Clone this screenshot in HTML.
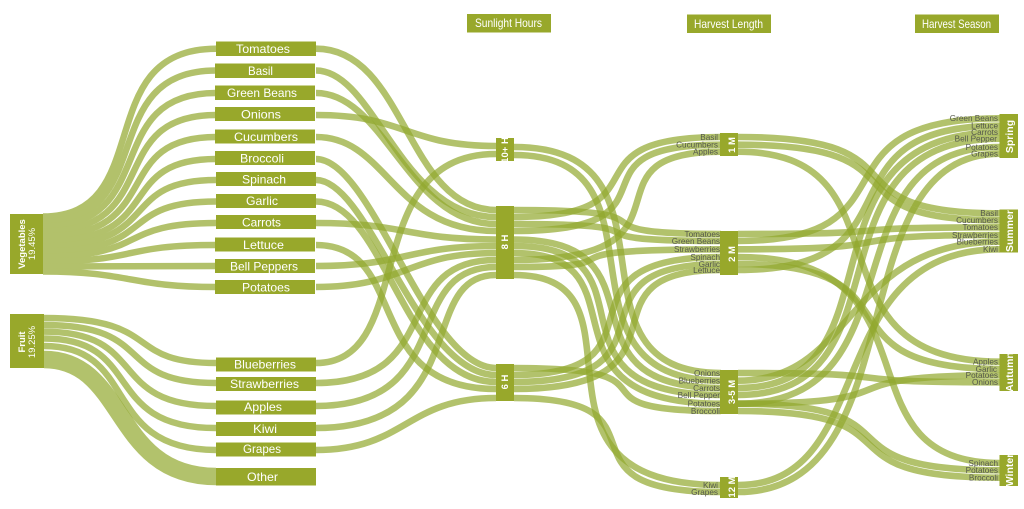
<!DOCTYPE html>
<html>
<head>
<meta charset="utf-8">
<style>
html,body{margin:0;padding:0;background:#fff;width:1024px;height:509px;overflow:hidden}
svg{display:block}
text{font-family:"Liberation Sans",sans-serif}
.r path{fill:none;stroke:#92a82d;stroke-width:6.6;stroke-opacity:.7}
.f path{stroke-width:6.4}
.g{opacity:.7}
.g path{fill:none;stroke:#92a82d;stroke-width:6.5}
rect{fill:#98a82b}
.w text{fill:#fff;font-size:12px}
.v text{fill:#fff;font-size:9.5px;font-weight:bold;text-anchor:middle}
.d text{fill:#55584c;font-size:8.2px;text-anchor:end}
</style>
</head>
<body>
<svg width="1024" height="509" viewBox="0 0 1024 509" xmlns="http://www.w3.org/2000/svg">
<!-- source to item -->
<g class="g">
<path d="M43 216.5C158 216.5 89 48.7 216 48.7"/>
<path d="M43 221.5C160 221.5 94 70.5 216 70.5"/>
<path d="M43 226.5C162 226.5 99 93 216 93"/>
<path d="M43 231.5C165 231.5 103 115 216 115"/>
<path d="M43 236.5C167 236.5 108 137 216 137"/>
<path d="M43 241.5C168 241.5 112 159 216 159"/>
<path d="M43 246.5C165 246.5 115 180 216 180"/>
<path d="M43 251.5C160 251.5 115 201.5 216 201.5"/>
<path d="M43 256.5C150 256.5 115 223 216 223"/>
<path d="M43 261.5C140 261.5 120 245 216 245"/>
<path d="M43 266.5C130 266.5 130 266 216 266"/>
<path d="M43 271.5C130 271.5 130 287 216 287"/>
</g>
<g class="r f">
<path d="M44 318C165 318 122 363 216 363"/>
<path d="M44 325C158 325 112 383 216 383"/>
<path d="M44 331.7C150 331.7 105 406 216 406"/>
<path d="M44 338.5C145 338.5 100 428 216 428"/>
<path d="M44 346C140 346 100 450 216 450"/>
<path d="M44 359.5C127 359.5 112 476.5 216 476.5" style="stroke-width:17.5"/>
</g>
<g class="r">
<!-- item to sunlight -->
<path d="M316 48.7C406 48.7 406 210 496 210"/>
<path d="M316 70.5C375 70.5 400 217 496 217"/>
<path d="M316 93C385 93 408 224 496 224"/>
<path d="M316 115C406 115 406 146 496 146"/>
<path d="M316 137C388 137 392 231 496 231"/>
<path d="M316 159C373 159 426 368 496 368"/>
<path d="M316 180C370 180 418 375 496 375"/>
<path d="M316 201.5C386 201.5 402 382 496 382"/>
<path d="M316 223C406 223 406 239.5 496 239.5"/>
<path d="M316 245C411 245 360 389 496 389"/>
<path d="M316 266C406 266 406 246 496 246"/>
<path d="M316 287C406 287 406 253 496 253"/>
<path d="M316 363C419 363 356 154 496 154"/>
<path d="M316 383C448 383 388 260 496 260"/>
<path d="M316 406C459 406 399 267 496 267"/>
<path d="M316 428C475 428 415 275 496 275"/>
<path d="M316 450C406 450 406 398 496 398"/>
<!-- sunlight to harvest -->
<path d="M514 147C695 147 552 373 721 373"/>
<path d="M514 155C680 155 540 380.7 721 380.7"/>
<path d="M514 210C695 210 555 234 721 234"/>
<path d="M514 217C674 217 557 137 721 137"/>
<path d="M514 224C687 224 547 241 721 241"/>
<path d="M514 231C695 231 555 144.7 721 144.7"/>
<path d="M514 239.5C675 239.5 548 388 721 388"/>
<path d="M514 246C667 246 529 395 721 395"/>
<path d="M514 253C653 253 525 403.7 721 403.7"/>
<path d="M514 260C712 260 572 151.7 721 151.7"/>
<path d="M514 267C655 267 515 249.3 721 249.3"/>
<path d="M514 275C661 275 501 485 721 485"/>
<path d="M514 368C695 368 555 411 721 411"/>
<path d="M514 375C679 375 539 257 721 257"/>
<path d="M514 382C693 382 553 264 721 264"/>
<path d="M514 389C707 389 567 270 721 270"/>
<path d="M514 398C682 398 542 492 721 492"/>
<!-- harvest to season -->
<path d="M738 137C936 137 816 213.3 1000 213.3"/>
<path d="M738 144.7C936 144.7 816 220.3 1000 220.3"/>
<path d="M738 151.7C917 151.7 797 361.7 1000 361.7"/>
<path d="M738 234C929 234 809 227.3 1000 227.3"/>
<path d="M738 241C924 241 804 118.3 1000 118.3"/>
<path d="M738 249.3C929 249.3 809 235 1000 235"/>
<path d="M738 257C950 257 830 463 1000 463"/>
<path d="M738 264C929 264 809 369 1000 369"/>
<path d="M738 270C930 270 810 125.7 1000 125.7"/>
<path d="M738 373C929 373 809 382.3 1000 382.3"/>
<path d="M738 380.7C857 380.7 843 241.7 1000 241.7"/>
<path d="M738 388C910 388 786 132.3 1000 132.3"/>
<path d="M738 395C917 395 797 138.7 1000 138.7"/>
<path d="M738 403.7C925 403.7 821 147 1000 147"/>
<path d="M738 403.7C929 403.7 809 375.3 1000 375.3"/>
<path d="M738 403.7C929 403.7 809 470.3 1000 470.3"/>
<path d="M738 411C929 411 809 477.7 1000 477.7"/>
<path d="M738 485C881 485 819 249.3 1000 249.3"/>
<path d="M738 492C919 492 835 153.7 1000 153.7"/>
</g>
<!-- nodes -->
<rect x="10" y="214" width="33" height="60"/>
<rect x="10" y="314" width="34" height="54"/>
<rect x="216" y="41.5" width="100" height="14.5"/>
<rect x="215" y="63.5" width="100" height="14.5"/>
<rect x="215" y="85.5" width="100" height="14.5"/>
<rect x="215" y="107" width="100" height="14"/>
<rect x="215" y="129.5" width="100" height="14"/>
<rect x="215" y="151" width="100" height="14"/>
<rect x="216" y="172" width="100" height="14"/>
<rect x="216" y="194" width="100" height="14"/>
<rect x="216" y="215" width="100" height="14"/>
<rect x="215" y="237.5" width="100" height="14"/>
<rect x="215" y="259" width="100" height="14"/>
<rect x="215" y="280" width="100" height="14"/>
<rect x="216" y="357.5" width="100" height="14"/>
<rect x="216" y="377" width="100" height="14"/>
<rect x="216" y="400.5" width="100" height="14"/>
<rect x="216" y="422" width="100" height="14"/>
<rect x="216" y="442.5" width="100" height="14"/>
<rect x="216" y="468" width="100" height="17.5"/>
<rect x="496" y="138" width="18" height="23"/>
<rect x="496" y="206" width="18" height="73"/>
<rect x="496" y="364" width="18" height="37"/>
<rect x="720" y="133" width="18" height="23"/>
<rect x="720" y="231" width="18" height="44"/>
<rect x="720" y="370" width="18" height="44"/>
<rect x="720" y="477" width="18" height="21"/>
<rect x="999.500" y="114" width="18.500" height="44"/>
<rect x="999.500" y="209.500" width="18.500" height="43"/>
<rect x="999.500" y="354" width="18.500" height="37"/>
<rect x="999.500" y="455" width="18.500" height="31"/>
<rect x="467" y="14" width="84" height="18.500"/>
<rect x="687" y="14.500" width="84" height="18.500"/>
<rect x="915" y="14.500" width="84" height="18.500"/>
<!-- item labels -->
<g class="w">
<text x="236" y="53" textLength="54" lengthAdjust="spacingAndGlyphs">Tomatoes</text>
<text x="248" y="75" textLength="25" lengthAdjust="spacingAndGlyphs">Basil</text>
<text x="227" y="97" textLength="70" lengthAdjust="spacingAndGlyphs">Green Beans</text>
<text x="241" y="118.500" textLength="40" lengthAdjust="spacingAndGlyphs">Onions</text>
<text x="234" y="141" textLength="64" lengthAdjust="spacingAndGlyphs">Cucumbers</text>
<text x="240" y="162.500" textLength="44" lengthAdjust="spacingAndGlyphs">Broccoli</text>
<text x="242" y="183.500" textLength="44" lengthAdjust="spacingAndGlyphs">Spinach</text>
<text x="246" y="205" textLength="32" lengthAdjust="spacingAndGlyphs">Garlic</text>
<text x="242" y="226.500" textLength="39" lengthAdjust="spacingAndGlyphs">Carrots</text>
<text x="243" y="249" textLength="41" lengthAdjust="spacingAndGlyphs">Lettuce</text>
<text x="230" y="270.500" textLength="68" lengthAdjust="spacingAndGlyphs">Bell Peppers</text>
<text x="242" y="291.500" textLength="48" lengthAdjust="spacingAndGlyphs">Potatoes</text>
<text x="234" y="368.500" textLength="62" lengthAdjust="spacingAndGlyphs">Blueberries</text>
<text x="230" y="388" textLength="69" lengthAdjust="spacingAndGlyphs">Strawberries</text>
<text x="244" y="411" textLength="38" lengthAdjust="spacingAndGlyphs">Apples</text>
<text x="253" y="433" textLength="24" lengthAdjust="spacingAndGlyphs">Kiwi</text>
<text x="243" y="453" textLength="38" lengthAdjust="spacingAndGlyphs">Grapes</text>
<text x="247" y="481" textLength="31" lengthAdjust="spacingAndGlyphs">Other</text>
<text x="475" y="27" textLength="67" lengthAdjust="spacingAndGlyphs">Sunlight Hours</text>
<text x="694" y="28" textLength="69" lengthAdjust="spacingAndGlyphs">Harvest Length</text>
<text x="922" y="28" textLength="69" lengthAdjust="spacingAndGlyphs">Harvest Season</text>
</g>
<!-- vertical labels -->
<g class="v">
<text transform="translate(25 244) rotate(-90)">Vegetables</text>
<text transform="translate(35 244) rotate(-90)" style="font-weight:normal">19.45%</text>
<text transform="translate(25 342) rotate(-90)">Fruit</text>
<text transform="translate(35 342) rotate(-90)" style="font-weight:normal">19.25%</text>
<text transform="translate(508 150) rotate(-90)">10+ H</text>
<text transform="translate(508 242) rotate(-90)">8 H</text>
<text transform="translate(508 382) rotate(-90)">6 H</text>
<text transform="translate(735 145) rotate(-90)">1 M</text>
<text transform="translate(735 254) rotate(-90)">2 M</text>
<text transform="translate(735 392) rotate(-90)">3-5 M</text>
<text transform="translate(735 487) rotate(-90)">12 M</text>
<text transform="translate(1013 136.500) rotate(-90)" style="font-size:10.500px">Spring</text>
<text transform="translate(1013 231) rotate(-90)" style="font-size:10.500px">Summer</text>
<text transform="translate(1013 372) rotate(-90)" style="font-size:10.500px">Autumn</text>
<text transform="translate(1013 470) rotate(-90)" style="font-size:10.500px">Winter</text>
</g>
<!-- harvest labels -->
<g class="d">
<text x="718" y="140">Basil</text>
<text x="718" y="147.500">Cucumbers</text>
<text x="718" y="154.500">Apples</text>
<text x="720" y="237">Tomatoes</text>
<text x="720" y="244">Green Beans</text>
<text x="720" y="252">Strawberries</text>
<text x="720" y="260">Spinach</text>
<text x="720" y="267">Garlic</text>
<text x="720" y="273">Lettuce</text>
<text x="720" y="376">Onions</text>
<text x="720" y="383.500">Blueberries</text>
<text x="720" y="391">Carrots</text>
<text x="720" y="398">Bell Pepper</text>
<text x="720" y="406.500">Potatoes</text>
<text x="720" y="414">Broccoli</text>
<text x="718" y="488">Kiwi</text>
<text x="718" y="495">Grapes</text>
<text x="998" y="121">Green Beans</text>
<text x="998" y="128.500">Lettuce</text>
<text x="998" y="135">Carrots</text>
<text x="997" y="141.500">Bell Pepper</text>
<text x="998" y="150">Potatoes</text>
<text x="998" y="156.500">Grapes</text>
<text x="998" y="216">Basil</text>
<text x="998" y="223">Cucumbers</text>
<text x="998" y="230">Tomatoes</text>
<text x="998" y="238">Strawberries</text>
<text x="998" y="244.500">Blueberries</text>
<text x="998" y="252">Kiwi</text>
<text x="998" y="364.500">Apples</text>
<text x="997" y="372">Garlic</text>
<text x="998" y="378">Potatoes</text>
<text x="998" y="385">Onions</text>
<text x="998" y="466">Spinach</text>
<text x="998" y="473">Potatoes</text>
<text x="998" y="480.500">Broccoli</text>
</g>
</svg>
</body>
</html>
